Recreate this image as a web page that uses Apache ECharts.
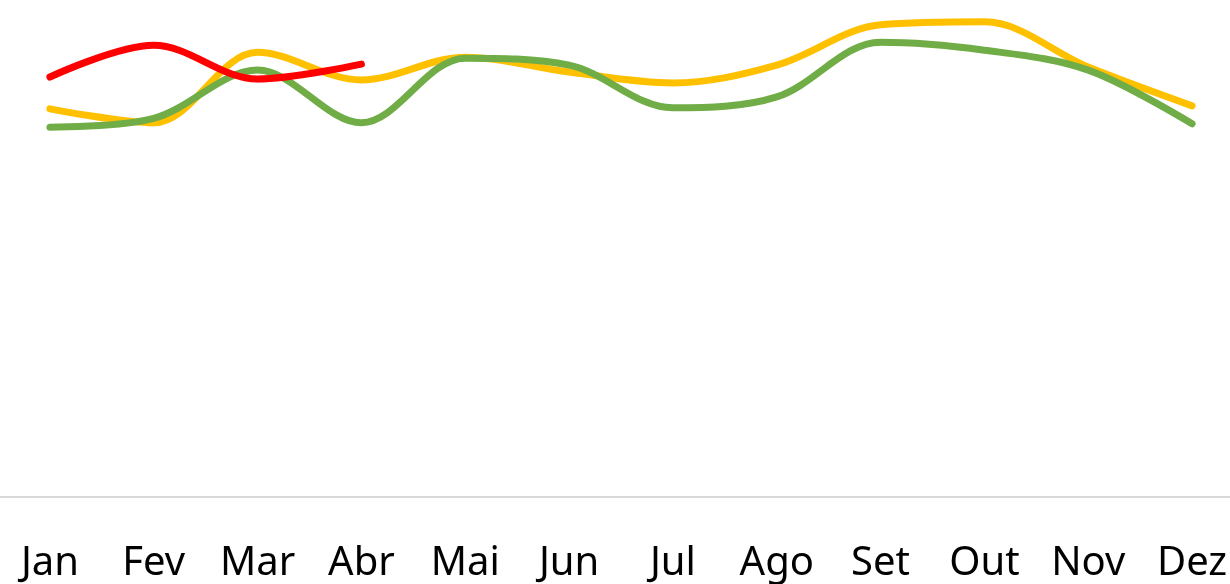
<!DOCTYPE html>
<html>
<head>
<meta charset="utf-8">
<script src="https://cdn.jsdelivr.net/npm/echarts@6/dist/echarts.min.js"></script>
<style>
  html, body { margin: 0; padding: 0; background: #fff; }
  #chart { width: 1230px; height: 584px; }
</style>
</head>
<body>
<div id="chart"></div>
<script>
// meses e valores
const meses = ['Jan', 'Fev', 'Mar', 'Abr', 'Mai', 'Jun', 'Jul', 'Ago', 'Set', 'Out', 'Nov', 'Dez'];
const serieAmarela = [78.1, 75.3, 89.5, 83.9, 88.5, 85.5, 83.3, 86.9, 95.0, 95.6, 86.5, 78.7];
const serieVerde = [74.4, 76.2, 85.9, 75.3, 88.3, 86.9, 78.3, 80.5, 91.5, 89.9, 85.9, 75.1];
const serieVermelha = [84.5, 90.9, 84.1, 87.1];

const chart = echarts.init(document.getElementById('chart'));

function linha (nome, dados, cor) {
  return {
    name: nome,
    type: 'line',
    smooth: 0.34,
    symbol: 'none',
    data: dados,
    lineStyle: { color: cor, width: 7, cap: 'round' },
    itemStyle: { color: cor },
    animation: false
  };
}

const option = {
  backgroundColor: '#fff',
  // a grelha passa um pouco da borda para os rótulos ficarem como no original
  grid: { left: -2, top: 0, width: 1246, height: 497, outerBoundsMode: 'none' },
  xAxis: {
    type: 'category',
    data: meses,
    boundaryGap: true,
    axisLine: { lineStyle: { color: '#d9d9d9', width: 2 } },
    axisTick: { show: false },
    axisLabel: {
      color: '#000',
      fontSize: 40,
      fontFamily: 'Noto Sans',
      margin: 47,
      interval: 0
    }
  },
  yAxis: {
    type: 'value',
    min: 0,
    max: 100,
    show: false,
    splitLine: { show: false }
  },
  tooltip: { show: false },
  legend: { show: false },
  series: [
    linha('Amarela', serieAmarela, '#FFC000'),
    linha('Verde', serieVerde, '#70AD47'),
    linha('Vermelha', serieVermelha, '#FF0000')
  ]
};
chart.setOption(option);
</script>
</body>
</html>
